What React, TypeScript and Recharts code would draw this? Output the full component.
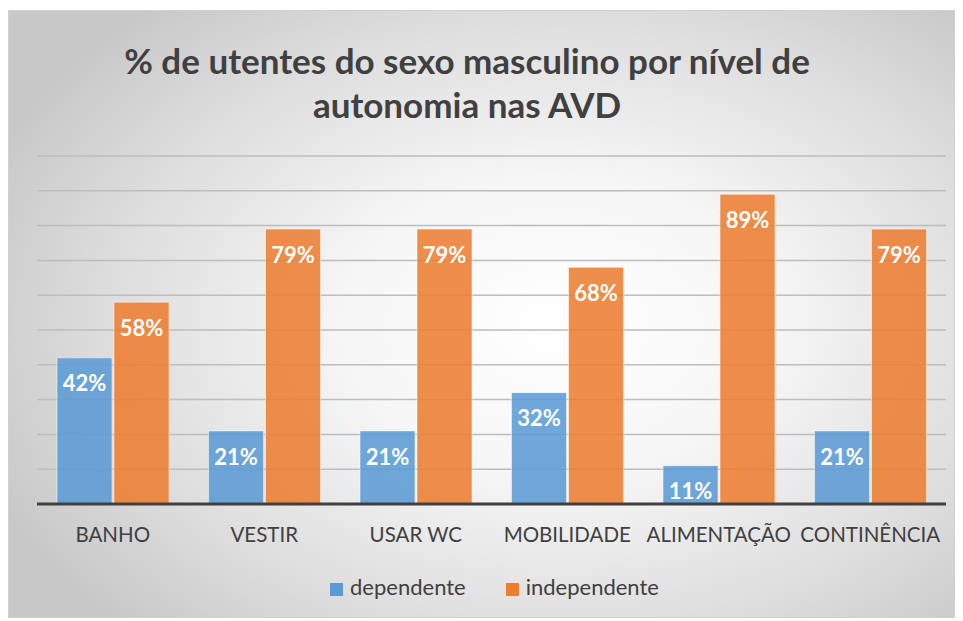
import {
  BarChart,
  Bar,
  XAxis,
  YAxis,
  CartesianGrid,
  Legend,
  LabelList,
} from "recharts";

// % of male users per autonomy level across daily-living activities (AVD)
const categories = ["BANHO", "VESTIR", "USAR WC", "MOBILIDADE", "ALIMENTAÇÃO", "CONTINÊNCIA"];
const dependente = [42, 21, 21, 32, 11, 21];
const independente = [58, 79, 79, 68, 89, 79];
const yTicks = [0, 10, 20, 30, 40, 50, 60, 70, 80, 90, 100];

const data = categories.map((name, i) => ({
  name,
  dependente: dependente[i],
  independente: independente[i],
}));

const FONT = "Lato, 'Open Sans', sans-serif";
const TEXT = "#404040";

const pct = (v: unknown) => `${v}%`;

export default function App() {
  return (
    <div
      style={{
        position: "relative",
        marginTop: 2,
        width: 947,
        height: 608,
        boxSizing: "border-box",
        border: "1px solid #d0d0d0",
        background:
          "radial-gradient(ellipse 65% 70% at 58% 52%, #ffffff 0%, #f6f6f6 35%, #dcdcdc 75%, #c8c8c8 100%)",
        fontFamily: FONT,
      }}
    >
      <div
        style={{
          position: "absolute",
          top: 27,
          left: 0,
          width: 916,
          textAlign: "center",
          fontSize: 35,
          fontWeight: 700,
          lineHeight: "44px",
          color: TEXT,
        }}
      >
        % de utentes do sexo masculino por nível de
        <br />
        autonomia nas AVD
      </div>
      <BarChart
        width={947}
        height={608}
        data={data}
        margin={{ top: 145, right: 10, left: 28, bottom: 20 }}
        barGap={2}
        barSize={55}
        style={{ position: "absolute", top: 0, left: 0 }}
      >
        <CartesianGrid vertical={false} stroke="#bdbdbd" strokeWidth={1.5} />
        <YAxis hide domain={[0, 100]} ticks={yTicks} />
        <XAxis
          dataKey="name"
          height={45}
          tickLine={false}
          axisLine={{ stroke: TEXT, strokeWidth: 3 }}
          tick={{ fill: TEXT, fontSize: 20.5, fontFamily: FONT }}
          tickMargin={17}
          interval={0}
        />
        <Legend
          verticalAlign="bottom"
          iconType="square"
          iconSize={13}
          height={50}
          wrapperStyle={{ fontSize: 22, fontFamily: FONT, top: 562, paddingLeft: 23 }}
          formatter={(value) => (
            <span style={{ color: TEXT, marginLeft: 3, marginRight: 30 }}>{value}</span>
          )}
        />
        <Bar
          dataKey="dependente"
          name="dependente"
          fill="#5b9bd5"
          fillOpacity={0.88}
          stroke="#ffffff"
          strokeOpacity={0.5}
          isAnimationActive={false}
        >
          <LabelList
            dataKey="dependente"
            position="insideTop"
            offset={18}
            formatter={pct}
            fill="#ffffff"
            fontSize={22}
            fontWeight={700}
            fontFamily={FONT}
          />
        </Bar>
        <Bar
          dataKey="independente"
          name="independente"
          fill="#ed7d31"
          fillOpacity={0.88}
          stroke="#ffffff"
          strokeOpacity={0.5}
          isAnimationActive={false}
        >
          <LabelList
            dataKey="independente"
            position="insideTop"
            offset={18}
            formatter={pct}
            fill="#ffffff"
            fontSize={22}
            fontWeight={700}
            fontFamily={FONT}
          />
        </Bar>
      </BarChart>
    </div>
  );
}
